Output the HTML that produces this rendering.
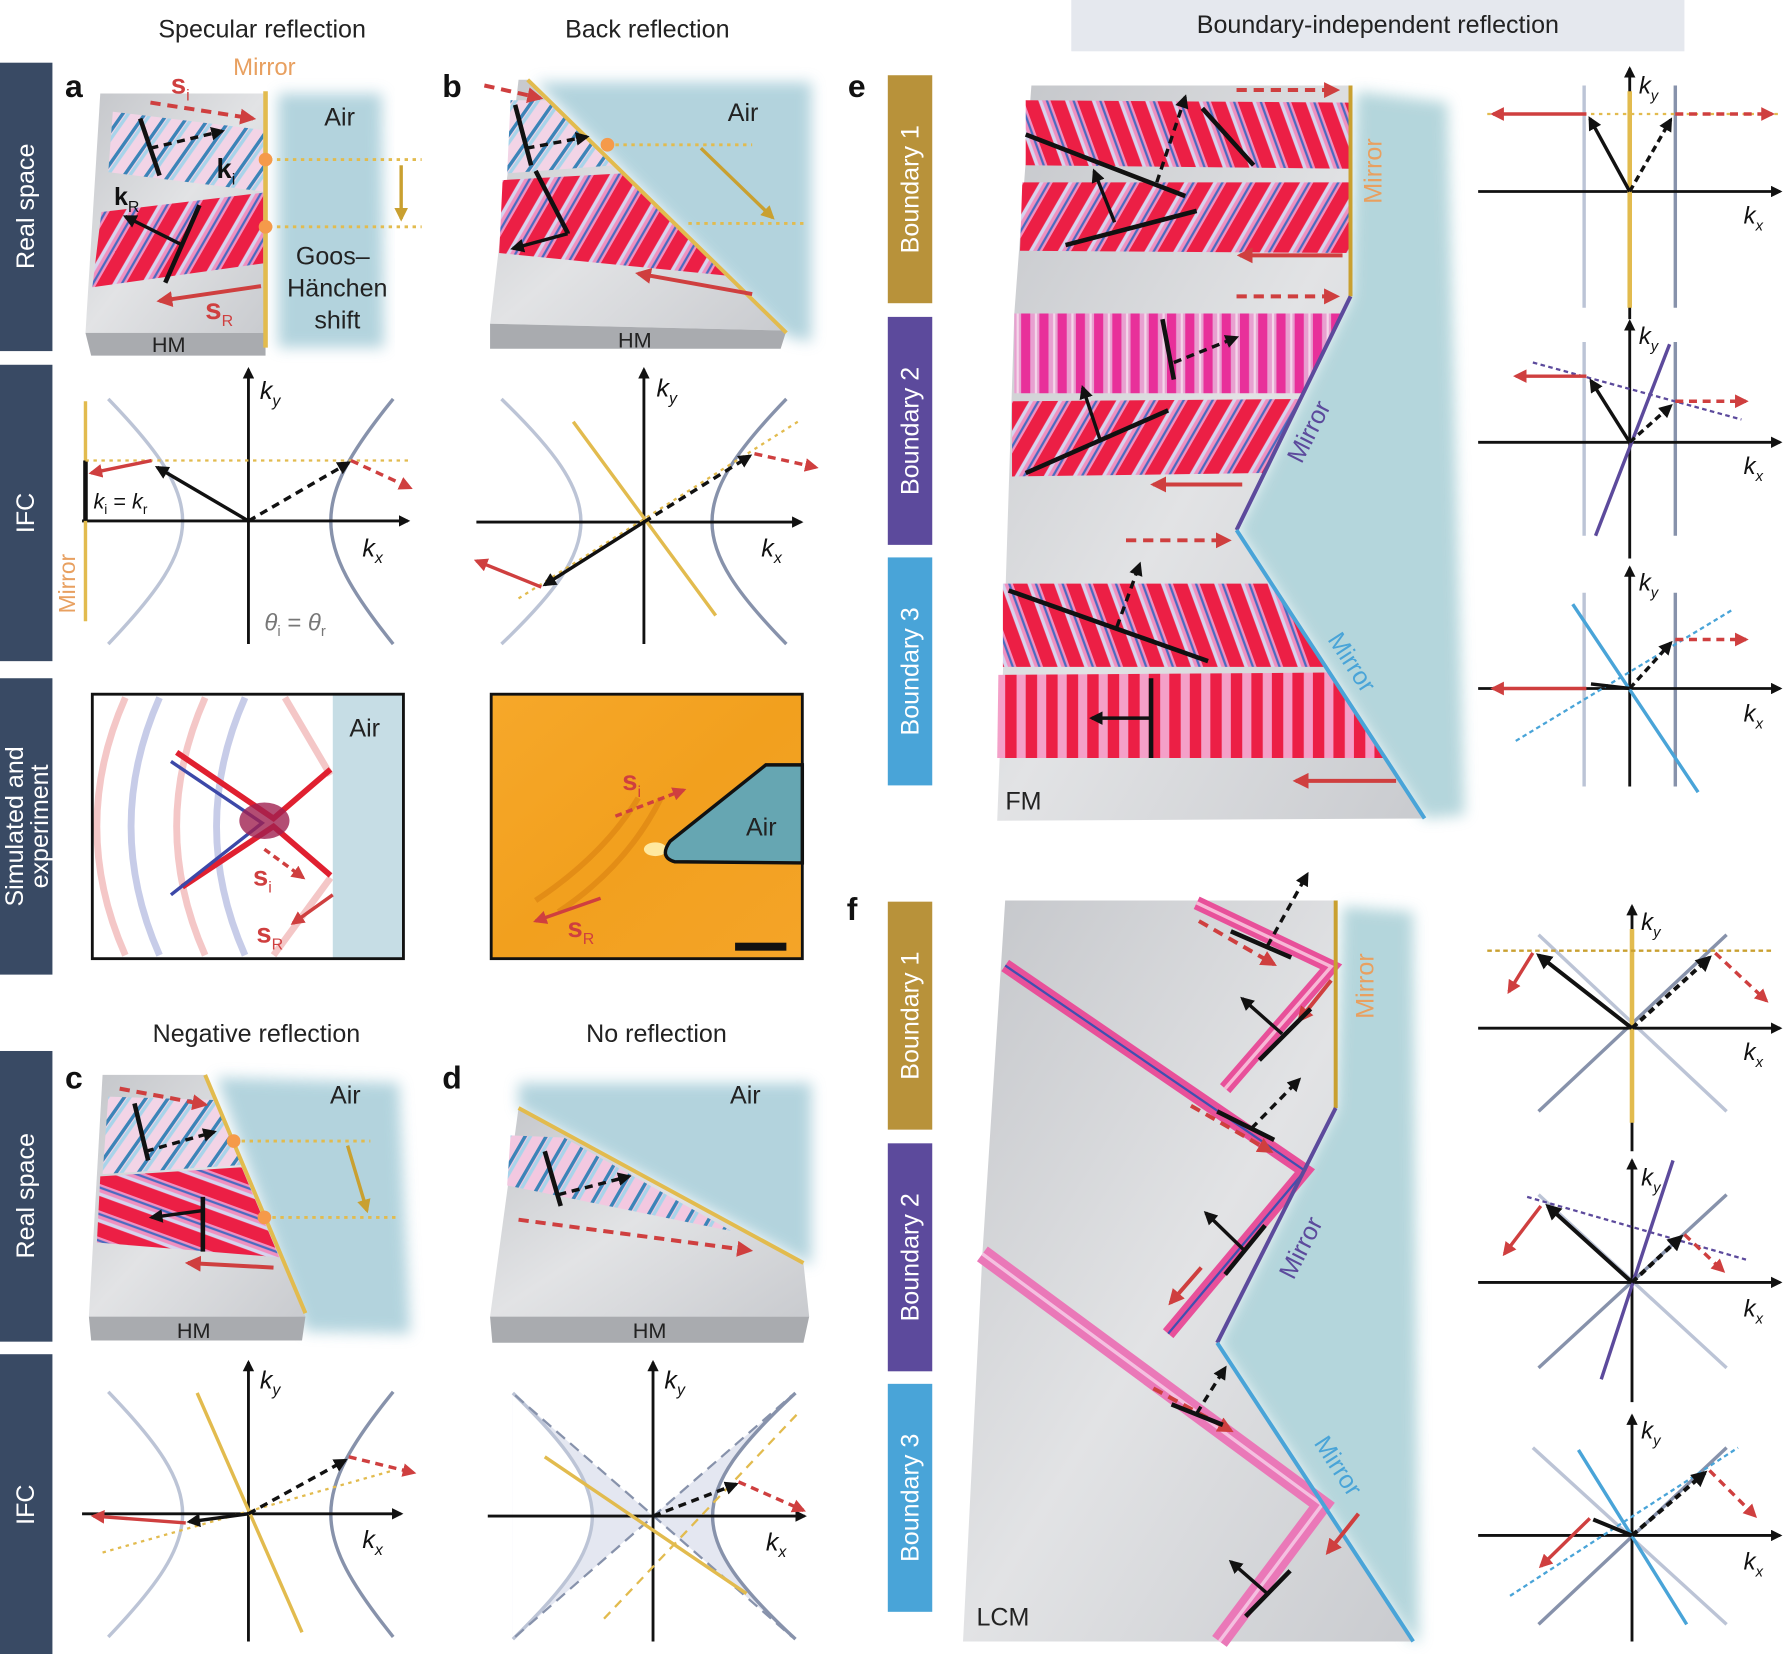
<!DOCTYPE html>
<html><head><meta charset="utf-8"><style>
html,body{margin:0;padding:0;background:#fff}
svg{display:block}
text{font-family:"Liberation Sans",sans-serif}
</style></head><body>
<svg width="1787" height="1654" viewBox="0 0 1568 1451" preserveAspectRatio="none" xmlns="http://www.w3.org/2000/svg">
<defs>
<marker id="ab" viewBox="0 0 10 10" refX="8" refY="5" markerWidth="4" markerHeight="4" orient="auto"><path d="M0,0L10,5L0,10z" fill="#111"/></marker>
<marker id="ar" viewBox="0 0 10 10" refX="8" refY="5" markerWidth="4" markerHeight="4" orient="auto"><path d="M0,0L10,5L0,10z" fill="#cf3f3f"/></marker>
<marker id="ag" viewBox="0 0 10 10" refX="8" refY="5" markerWidth="4" markerHeight="4" orient="auto"><path d="M0,0L10,5L0,10z" fill="#c9a030"/></marker>
<pattern id="pr" width="22" height="22" patternUnits="userSpaceOnUse" patternTransform="rotate(30)"><rect width="22" height="22" fill="#f090c0"/><rect width="12" height="22" fill="#ec1f45"/><rect x="12" width="3" height="22" fill="#d7d3ee"/><rect x="18" width="2" height="22" fill="#4a6bc0"/></pattern>
<pattern id="pr2" width="22" height="22" patternUnits="userSpaceOnUse" patternTransform="rotate(-20)"><rect width="22" height="22" fill="#f090c0"/><rect width="12" height="22" fill="#ec1f45"/><rect x="12" width="3" height="22" fill="#d7d3ee"/><rect x="18" width="2" height="22" fill="#4a6bc0"/></pattern>
<pattern id="pr3" width="22" height="22" patternUnits="userSpaceOnUse" patternTransform="rotate(-70)"><rect width="22" height="22" fill="#f090c0"/><rect width="12" height="22" fill="#ec1f45"/><rect x="12" width="3" height="22" fill="#d7d3ee"/><rect x="18" width="2" height="22" fill="#4a6bc0"/></pattern>
<pattern id="pv" width="16" height="16" patternUnits="userSpaceOnUse"><rect width="16" height="16" fill="#e8a0d0"/><rect width="8" height="16" fill="#e8309a"/><rect x="12" width="2" height="16" fill="#f4d6ea"/></pattern>
<pattern id="pvr" width="18" height="18" patternUnits="userSpaceOnUse"><rect width="18" height="18" fill="#f4a0c8"/><rect width="10" height="18" fill="#ec1f45"/></pattern>
<pattern id="pp" width="16" height="16" patternUnits="userSpaceOnUse" patternTransform="rotate(35)"><rect width="16" height="16" fill="#f2d4e6"/><rect width="3" height="16" fill="#3b84b8"/><rect x="4" width="3" height="16" fill="#a8d4ea"/></pattern>
<pattern id="pp2" width="16" height="16" patternUnits="userSpaceOnUse" patternTransform="rotate(30)"><rect width="16" height="16" fill="#f2c8e0"/><rect width="3" height="16" fill="#3b84b8"/><rect x="4" width="3" height="16" fill="#a8d4ea"/></pattern>
<linearGradient id="gray" x1="0" y1="0" x2="1" y2="1"><stop offset="0" stop-color="#c4c6ca"/><stop offset="0.5" stop-color="#e2e3e5"/><stop offset="1" stop-color="#c9cbcf"/></linearGradient>
<linearGradient id="orng" x1="0" y1="0" x2="1" y2="1"><stop offset="0" stop-color="#f6a82a"/><stop offset="0.5" stop-color="#f2a01e"/><stop offset="1" stop-color="#f4a428"/></linearGradient>
<filter id="bl"><feGaussianBlur stdDeviation="6"/></filter>
</defs>

<!-- side bars -->
<g fill="#394a64">
<rect x="0" y="55" width="46" height="253"/><rect x="0" y="320" width="46" height="260"/>
<rect x="0" y="595" width="46" height="260"/><rect x="0" y="922" width="46" height="255"/>
<rect x="0" y="1188" width="46" height="263"/>
</g>
<g fill="#fff" font-size="22" text-anchor="middle">
<text transform="translate(30,181) rotate(-90)">Real space</text>
<text transform="translate(30,450) rotate(-90)">IFC</text>
<text transform="translate(20,725) rotate(-90)">Simulated and</text>
<text transform="translate(42,725) rotate(-90)">experiment</text>
<text transform="translate(30,1049) rotate(-90)">Real space</text>
<text transform="translate(30,1320) rotate(-90)">IFC</text>
</g>

<!-- titles -->
<g font-size="22" fill="#222" text-anchor="middle">
<text x="230" y="33">Specular reflection</text>
<text x="568" y="33">Back reflection</text>
<text x="225" y="914">Negative reflection</text>
<text x="576" y="914">No reflection</text>
</g>
<rect x="940" y="0" width="538" height="45" fill="#e5e8ee"/>
<text x="1209" y="29" font-size="22" fill="#222" text-anchor="middle">Boundary-independent reflection</text>
<g font-size="28" font-weight="bold" fill="#111">
<text x="57" y="85">a</text><text x="388" y="85">b</text><text x="57" y="955">c</text><text x="388" y="955">d</text>
<text x="744" y="85">e</text><text x="743" y="807">f</text>
</g>

<!-- ===== Panel a real space ===== -->
<path d="M244,82 L335,82 L337,305 L244,305Z" fill="#a6ccd8" opacity="0.85" filter="url(#bl)"/>
<path d="M88,82 L233,82 L233,292 L75,292Z" fill="url(#gray)"/>
<path d="M75,292 L233,292 L233,312 L80,312Z" fill="#a9abaf"/>
<path d="M99,98 L231,114 L231,168 L95,151Z" fill="url(#pp)"/>
<path d="M89,186 L231,169 L231,231 L81,252Z" fill="url(#pr)"/>
<line x1="233" y1="80" x2="233" y2="305" stroke="#e2bb4e" stroke-width="4"/>
<text x="232" y="66" font-size="21" fill="#e8a060" text-anchor="middle">Mirror</text>
<g stroke="#e2bb4e" stroke-width="2.5" stroke-dasharray="3,4"><line x1="236" y1="140" x2="370" y2="140"/><line x1="236" y1="199" x2="370" y2="199"/></g>
<circle cx="233" cy="140" r="6" fill="#f59a4a"/><circle cx="233" cy="199" r="6" fill="#f59a4a"/>
<line x1="352" y1="145" x2="352" y2="192" stroke="#c9a030" stroke-width="3" marker-end="url(#ag)"/>
<line x1="132" y1="90" x2="222" y2="104" stroke="#cf3f3f" stroke-width="3.5" stroke-dasharray="9,6" marker-end="url(#ar)"/>
<line x1="229" y1="251" x2="140" y2="264" stroke="#cf3f3f" stroke-width="3.5" marker-end="url(#ar)"/>
<line x1="123" y1="104" x2="140" y2="154" stroke="#111" stroke-width="4"/>
<line x1="132" y1="130" x2="195" y2="115" stroke="#111" stroke-width="3" stroke-dasharray="7,5" marker-end="url(#ab)"/>
<line x1="175" y1="180" x2="145" y2="248" stroke="#111" stroke-width="4"/>
<line x1="160" y1="215" x2="110" y2="190" stroke="#111" stroke-width="3" marker-end="url(#ab)"/>
<text x="150" y="82" font-size="24" font-weight="bold" fill="#cf3f3f">s<tspan font-size="14" font-weight="normal" dy="6">i</tspan></text>
<text x="190" y="156" font-size="24" font-weight="bold" fill="#111">k<tspan font-size="14" font-weight="normal" dy="6">i</tspan></text>
<text x="100" y="180" font-size="22" font-weight="bold" fill="#111">k<tspan font-size="14" font-weight="normal" dy="6">R</tspan></text>
<text x="180" y="280" font-size="26" font-weight="bold" fill="#cf3f3f">s<tspan font-size="14" font-weight="normal" dy="6">R</tspan></text>
<g font-size="22" fill="#222" text-anchor="middle"><text x="298" y="110">Air</text><text x="292" y="232">Goos–</text><text x="296" y="260">Hänchen</text><text x="296" y="288">shift</text><text x="148" y="309" font-size="19">HM</text></g>

<!-- ===== Panel b real space ===== -->
<path d="M470,72 L712,72 L712,300 L690,295Z" fill="#a6ccd8" opacity="0.85" filter="url(#bl)"/>
<path d="M455,70 L465,70 L690,290 L430,284Z" fill="url(#gray)"/>
<path d="M430,284 L690,290 L685,306 L430,306Z" fill="#a9abaf"/>
<path d="M448,88 L481,88 L540,145 L445,152Z" fill="url(#pp)"/>
<path d="M441,158 L548,152 L640,242 L438,222Z" fill="url(#pr)"/>
<line x1="463" y1="70" x2="690" y2="292" stroke="#e2bb4e" stroke-width="3.5"/>
<g stroke="#e2bb4e" stroke-width="2.5" stroke-dasharray="3,4"><line x1="533" y1="127" x2="660" y2="127"/><line x1="604" y1="196" x2="705" y2="196"/></g>
<circle cx="533" cy="127" r="6" fill="#f59a4a"/>
<line x1="615" y1="130" x2="678" y2="191" stroke="#c9a030" stroke-width="3" marker-end="url(#ag)"/>
<line x1="425" y1="75" x2="474" y2="86" stroke="#cf3f3f" stroke-width="3.5" stroke-dasharray="9,6" marker-end="url(#ar)"/>
<line x1="660" y1="258" x2="560" y2="240" stroke="#cf3f3f" stroke-width="3.5" marker-end="url(#ar)"/>
<line x1="452" y1="92" x2="466" y2="145" stroke="#111" stroke-width="4"/>
<line x1="462" y1="130" x2="515" y2="120" stroke="#111" stroke-width="3" stroke-dasharray="7,5" marker-end="url(#ab)"/>
<polyline points="470,150 498,204 498,205" fill="none" stroke="#111" stroke-width="4"/>
<line x1="498" y1="205" x2="450" y2="218" stroke="#111" stroke-width="3" marker-end="url(#ab)"/>
<text x="652" y="106" font-size="22" fill="#222" text-anchor="middle">Air</text>
<text x="557" y="305" font-size="19" fill="#222" text-anchor="middle">HM</text>

<!-- ===== IFC a ===== -->
<g fill="none" stroke-width="3">
<path d="M95,350 C182,440 182,474 95,565" stroke="#bcc4d6"/><path d="M345,350 C272,440 272,474 345,565" stroke="#8792ab"/>
</g>
<line x1="72" y1="457" x2="358" y2="457" stroke="#111" stroke-width="2.5" marker-end="url(#ab)"/>
<line x1="218" y1="565" x2="218" y2="324" stroke="#111" stroke-width="2.5" marker-end="url(#ab)"/>
<line x1="75" y1="352" x2="75" y2="545" stroke="#e2bb4e" stroke-width="3"/>
<line x1="75" y1="404" x2="75" y2="457" stroke="#111" stroke-width="4"/>
<line x1="75" y1="404" x2="360" y2="404" stroke="#e2bb4e" stroke-width="2" stroke-dasharray="3,4"/>
<line x1="218" y1="457" x2="138" y2="410" stroke="#111" stroke-width="3" marker-end="url(#ab)"/>
<line x1="133" y1="404" x2="80" y2="415" stroke="#cf3f3f" stroke-width="3" marker-end="url(#ar)"/>
<line x1="218" y1="457" x2="306" y2="406" stroke="#111" stroke-width="3" stroke-dasharray="7,5" marker-end="url(#ab)"/>
<line x1="308" y1="404" x2="360" y2="428" stroke="#cf3f3f" stroke-width="3" stroke-dasharray="7,5" marker-end="url(#ar)"/>
<text transform="translate(66,512) rotate(-90)" font-size="20" fill="#e8a060" text-anchor="middle">Mirror</text>
<text x="82" y="446" font-size="19" fill="#111"><tspan font-style="italic">k</tspan><tspan font-size="12" dy="5">i</tspan><tspan dy="-5"> = </tspan><tspan font-style="italic">k</tspan><tspan font-size="12" dy="5">r</tspan></text>
<text x="232" y="553" font-size="21" fill="#777" font-style="italic">θ<tspan font-size="13" dy="5" font-style="normal">i</tspan><tspan dy="-5" font-style="normal"> = </tspan>θ<tspan font-size="13" dy="5" font-style="normal">r</tspan></text>
<text x="228" y="350" font-size="22" font-style="italic" fill="#111">k<tspan font-size="14" dy="6">y</tspan></text>
<text x="318" y="488" font-size="22" font-style="italic" fill="#111">k<tspan font-size="14" dy="6">x</tspan></text>

<!-- ===== IFC b ===== -->
<g fill="none" stroke-width="3">
<path d="M440,350 C533,440 533,476 440,565" stroke="#bcc4d6"/><path d="M690,350 C603,440 603,476 690,565" stroke="#8792ab"/>
</g>
<line x1="418" y1="458" x2="703" y2="458" stroke="#111" stroke-width="2.5" marker-end="url(#ab)"/>
<line x1="565" y1="565" x2="565" y2="324" stroke="#111" stroke-width="2.5" marker-end="url(#ab)"/>
<line x1="503" y1="370" x2="628" y2="540" stroke="#e2bb4e" stroke-width="3"/>
<line x1="455" y1="525" x2="700" y2="370" stroke="#e2bb4e" stroke-width="2" stroke-dasharray="3,4"/>
<line x1="565" y1="458" x2="478" y2="513" stroke="#111" stroke-width="3" marker-end="url(#ab)"/>
<line x1="475" y1="515" x2="418" y2="492" stroke="#cf3f3f" stroke-width="3" marker-end="url(#ar)"/>
<line x1="565" y1="458" x2="658" y2="400" stroke="#111" stroke-width="3" stroke-dasharray="7,5" marker-end="url(#ab)"/>
<line x1="662" y1="398" x2="716" y2="410" stroke="#cf3f3f" stroke-width="3" stroke-dasharray="7,5" marker-end="url(#ar)"/>
<text x="576" y="348" font-size="22" font-style="italic" fill="#111">k<tspan font-size="14" dy="6">y</tspan></text>
<text x="668" y="488" font-size="22" font-style="italic" fill="#111">k<tspan font-size="14" dy="6">x</tspan></text>

<!-- ===== simulated ===== -->
<rect x="81" y="609" width="273" height="232" fill="#fff"/>
<g fill="none" stroke-width="6" opacity="0.35">
<path d="M110,612 Q60,725 110,838" stroke="#e06060"/><path d="M140,612 Q90,725 140,838" stroke="#6070c0"/>
<path d="M180,612 Q130,725 180,838" stroke="#e06060"/><path d="M215,612 Q165,725 215,838" stroke="#6070c0"/>
<path d="M250,612 L290,680" stroke="#e06060"/><path d="M240,838 L290,770" stroke="#e06060"/>
</g>
<g stroke-width="5" fill="none">
<path d="M155,660 L240,718 L290,675" stroke="#e02030"/>
<path d="M160,778 L240,725 L290,768" stroke="#e02030"/>
<path d="M150,668 L230,722 L150,785" stroke="#3c48a8" stroke-width="3"/>
</g>
<ellipse cx="232" cy="720" rx="22" ry="16" fill="#a02050" opacity="0.8"/>
<rect x="292" y="609" width="62" height="232" fill="#c6dde5"/>
<rect x="81" y="609" width="273" height="232" fill="none" stroke="#111" stroke-width="2.5"/>
<text x="320" y="646" font-size="22" fill="#222" text-anchor="middle">Air</text>
<line x1="232" y1="745" x2="266" y2="770" stroke="#cf3f3f" stroke-width="3" stroke-dasharray="6,4" marker-end="url(#ar)"/>
<line x1="292" y1="785" x2="257" y2="810" stroke="#cf3f3f" stroke-width="3" marker-end="url(#ar)"/>
<text x="222" y="777" font-size="24" font-weight="bold" fill="#cf3f3f">s<tspan font-size="14" font-weight="normal" dy="6">i</tspan></text>
<text x="225" y="827" font-size="24" font-weight="bold" fill="#cf3f3f">s<tspan font-size="14" font-weight="normal" dy="6">R</tspan></text>

<!-- ===== experiment ===== -->
<rect x="431" y="609" width="273" height="232" fill="url(#orng)"/>
<path d="M490,800 Q550,760 580,700 M470,790 Q530,750 560,700" stroke="#d98010" stroke-width="5" fill="none" opacity="0.6"/>
<ellipse cx="575" cy="745" rx="10" ry="6" fill="#ffe9a0"/>
<path d="M704,671 L672,671 L588,738 Q578,752 592,756 L704,757Z" fill="#66a6b2" stroke="#111" stroke-width="3"/>
<rect x="431" y="609" width="273" height="232" fill="none" stroke="#111" stroke-width="2.5"/>
<text x="668" y="733" font-size="22" fill="#222" text-anchor="middle">Air</text>
<line x1="540" y1="716" x2="600" y2="693" stroke="#cf3f3f" stroke-width="3" stroke-dasharray="6,4" marker-end="url(#ar)"/>
<line x1="527" y1="788" x2="470" y2="808" stroke="#cf3f3f" stroke-width="3" marker-end="url(#ar)"/>
<text x="546" y="693" font-size="24" font-weight="bold" fill="#cf3f3f">s<tspan font-size="14" font-weight="normal" dy="6">i</tspan></text>
<text x="498" y="822" font-size="24" font-weight="bold" fill="#cf3f3f">s<tspan font-size="14" font-weight="normal" dy="6">R</tspan></text>
<rect x="645" y="827" width="45" height="7" fill="#111"/>

<!-- ===== Panel c ===== -->
<path d="M190,945 L350,950 L360,1170 L268,1168Z" fill="#a6ccd8" opacity="0.85" filter="url(#bl)"/>
<path d="M90,943 L180,943 L268,1155 L78,1155Z" fill="url(#gray)"/>
<path d="M78,1155 L268,1155 L265,1176 L80,1176Z" fill="#a9abaf"/>
<path d="M95,962 L188,965 L212,1022 L90,1030Z" fill="url(#pp)"/>
<path d="M88,1032 L212,1024 L245,1103 L85,1090Z" fill="url(#pr3)"/>
<line x1="180" y1="943" x2="268" y2="1152" stroke="#e2bb4e" stroke-width="3.5"/>
<g stroke="#e2bb4e" stroke-width="2.5" stroke-dasharray="3,4"><line x1="205" y1="1001" x2="325" y2="1001"/><line x1="232" y1="1068" x2="350" y2="1068"/></g>
<circle cx="205" cy="1001" r="6" fill="#f59a4a"/><circle cx="232" cy="1068" r="6" fill="#f59a4a"/>
<line x1="305" y1="1005" x2="322" y2="1062" stroke="#c9a030" stroke-width="3" marker-end="url(#ag)"/>
<line x1="105" y1="955" x2="180" y2="969" stroke="#cf3f3f" stroke-width="3.5" stroke-dasharray="9,6" marker-end="url(#ar)"/>
<line x1="240" y1="1112" x2="165" y2="1108" stroke="#cf3f3f" stroke-width="3.5" marker-end="url(#ar)"/>
<line x1="118" y1="968" x2="130" y2="1018" stroke="#111" stroke-width="4"/>
<line x1="128" y1="1010" x2="188" y2="993" stroke="#111" stroke-width="3" stroke-dasharray="7,5" marker-end="url(#ab)"/>
<line x1="178" y1="1050" x2="178" y2="1098" stroke="#111" stroke-width="4"/>
<line x1="178" y1="1062" x2="133" y2="1068" stroke="#111" stroke-width="3" marker-end="url(#ab)"/>
<text x="303" y="968" font-size="22" fill="#222" text-anchor="middle">Air</text>
<text x="170" y="1174" font-size="19" fill="#222" text-anchor="middle">HM</text>

<!-- ===== IFC c ===== -->
<g fill="none" stroke-width="3">
<path d="M95,1221 C182,1311 182,1345 95,1436" stroke="#bcc4d6"/><path d="M345,1221 C272,1311 272,1345 345,1436" stroke="#8792ab"/>
</g>
<line x1="72" y1="1328" x2="352" y2="1328" stroke="#111" stroke-width="2.5" marker-end="url(#ab)"/>
<line x1="218" y1="1440" x2="218" y2="1195" stroke="#111" stroke-width="2.5" marker-end="url(#ab)"/>
<line x1="173" y1="1222" x2="265" y2="1432" stroke="#e2bb4e" stroke-width="3"/>
<line x1="90" y1="1362" x2="345" y2="1290" stroke="#e2bb4e" stroke-width="2" stroke-dasharray="3,4"/>
<line x1="218" y1="1328" x2="166" y2="1335" stroke="#111" stroke-width="3" marker-end="url(#ab)"/>
<line x1="163" y1="1336" x2="82" y2="1330" stroke="#cf3f3f" stroke-width="3" marker-end="url(#ar)"/>
<line x1="218" y1="1328" x2="303" y2="1281" stroke="#111" stroke-width="3" stroke-dasharray="7,5" marker-end="url(#ab)"/>
<line x1="306" y1="1278" x2="363" y2="1292" stroke="#cf3f3f" stroke-width="3" stroke-dasharray="7,5" marker-end="url(#ar)"/>
<text x="228" y="1218" font-size="22" font-style="italic" fill="#111">k<tspan font-size="14" dy="6">y</tspan></text>
<text x="318" y="1358" font-size="22" font-style="italic" fill="#111">k<tspan font-size="14" dy="6">x</tspan></text>

<!-- ===== Panel d ===== -->
<path d="M455,950 L712,950 L712,1110 L455,972Z" fill="#a6ccd8" opacity="0.85" filter="url(#bl)"/>
<path d="M455,972 L705,1108 L710,1155 L430,1155Z" fill="url(#gray)"/>
<path d="M430,1155 L710,1155 L705,1178 L432,1178Z" fill="#a9abaf"/>
<path d="M448,996 L495,998 L642,1080 L445,1040Z" fill="url(#pp2)"/>
<line x1="455" y1="972" x2="705" y2="1108" stroke="#e2bb4e" stroke-width="3.5"/>
<line x1="478" y1="1010" x2="492" y2="1058" stroke="#111" stroke-width="4"/>
<line x1="490" y1="1048" x2="552" y2="1032" stroke="#111" stroke-width="3" stroke-dasharray="7,5" marker-end="url(#ab)"/>
<line x1="455" y1="1070" x2="658" y2="1097" stroke="#cf3f3f" stroke-width="3.5" stroke-dasharray="9,6" marker-end="url(#ar)"/>
<text x="654" y="968" font-size="22" fill="#222" text-anchor="middle">Air</text>
<text x="570" y="1174" font-size="19" fill="#222" text-anchor="middle">HM</text>

<!-- ===== IFC d ===== -->
<path d="M450,1222 L573,1330 L450,1438Z" fill="#e4e7f1"/>
<path d="M450,1222 C543,1312 543,1348 450,1438Z" fill="#fff"/>
<path d="M698,1222 L573,1330 L698,1438Z" fill="#e4e7f1"/>
<path d="M698,1222 C601,1312 601,1348 698,1438Z" fill="#fff"/>
<g fill="none" stroke-width="3">
<path d="M450,1222 C543,1312 543,1348 450,1438" stroke="#bcc4d6"/><path d="M698,1222 C601,1312 601,1348 698,1438" stroke="#8792ab"/>
</g>
<g stroke="#8792ab" stroke-width="2" stroke-dasharray="10,6"><line x1="452" y1="1224" x2="695" y2="1436"/><line x1="452" y1="1436" x2="695" y2="1224"/></g>
<line x1="428" y1="1330" x2="706" y2="1330" stroke="#111" stroke-width="2.5" marker-end="url(#ab)"/>
<line x1="573" y1="1440" x2="573" y2="1195" stroke="#111" stroke-width="2.5" marker-end="url(#ab)"/>
<line x1="478" y1="1278" x2="655" y2="1398" stroke="#e2bb4e" stroke-width="3"/>
<line x1="530" y1="1420" x2="700" y2="1240" stroke="#e2bb4e" stroke-width="2" stroke-dasharray="8,6"/>
<line x1="573" y1="1330" x2="646" y2="1302" stroke="#111" stroke-width="3" stroke-dasharray="7,5" marker-end="url(#ab)"/>
<line x1="648" y1="1300" x2="705" y2="1325" stroke="#cf3f3f" stroke-width="3" stroke-dasharray="7,5" marker-end="url(#ar)"/>
<text x="583" y="1218" font-size="22" font-style="italic" fill="#111">k<tspan font-size="14" dy="6">y</tspan></text>
<text x="672" y="1360" font-size="22" font-style="italic" fill="#111">k<tspan font-size="14" dy="6">x</tspan></text>

<!-- ===== boundary bars ===== -->
<rect x="779" y="66" width="39" height="200" fill="#b8923a"/>
<rect x="779" y="278" width="39" height="200" fill="#5c4a9c"/>
<rect x="779" y="489" width="39" height="200" fill="#49a4d8"/>
<rect x="779" y="791" width="39" height="200" fill="#b8923a"/>
<rect x="779" y="1003" width="39" height="200" fill="#5c4a9c"/>
<rect x="779" y="1214" width="39" height="200" fill="#49a4d8"/>
<g fill="#fff" font-size="22" text-anchor="middle">
<text transform="translate(806,166) rotate(-90)">Boundary 1</text>
<text transform="translate(806,378) rotate(-90)">Boundary 2</text>
<text transform="translate(806,589) rotate(-90)">Boundary 3</text>
<text transform="translate(806,891) rotate(-90)">Boundary 1</text>
<text transform="translate(806,1103) rotate(-90)">Boundary 2</text>
<text transform="translate(806,1314) rotate(-90)">Boundary 3</text>
</g>

<!-- ===== Panel e main ===== -->
<path d="M1190,80 L1270,90 L1285,715 L1250,718 L1085,465 L1185,260Z" fill="#a8cfd6" opacity="0.85" filter="url(#bl)"/>
<path d="M905,75 L1185,75 L1185,260 L1085,465 L1250,718 L875,720 L880,590 L890,275Z" fill="url(#gray)"/>
<path d="M900,88 L1185,90 L1185,148 L900,145Z" fill="url(#pr2)"/>
<path d="M897,160 L1185,160 L1185,222 L895,220Z" fill="url(#pr)"/>
<path d="M890,275 L1178,275 L1144,345 L890,345Z" fill="url(#pv)"/>
<path d="M888,352 L1141,350 L1109,415 L888,418Z" fill="url(#pr)"/>
<path d="M880,512 L1116,512 L1163,585 L880,585Z" fill="url(#pr2)"/>
<path d="M876,592 L1166,590 L1215,665 L875,665Z" fill="url(#pvr)"/>
<polyline points="1185,75 1185,260" stroke="#c9a030" stroke-width="3.5" fill="none"/>
<line x1="1185" y1="260" x2="1085" y2="465" stroke="#5c4a9c" stroke-width="3.5"/>
<line x1="1085" y1="465" x2="1250" y2="718" stroke="#49a4d8" stroke-width="3.5"/>
<g stroke="#cf3f3f" stroke-width="3.5">
<line x1="1085" y1="79" x2="1173" y2="79" stroke-dasharray="9,6" marker-end="url(#ar)"/>
<line x1="1085" y1="260" x2="1173" y2="260" stroke-dasharray="9,6" marker-end="url(#ar)"/>
<line x1="988" y1="474" x2="1078" y2="474" stroke-dasharray="9,6" marker-end="url(#ar)"/>
<line x1="1178" y1="224" x2="1088" y2="224" marker-end="url(#ar)"/>
<line x1="1090" y1="425" x2="1012" y2="425" marker-end="url(#ar)"/>
<line x1="1225" y1="685" x2="1137" y2="685" marker-end="url(#ar)"/>
</g>
<g stroke="#111" stroke-width="4">
<line x1="1055" y1="95" x2="1100" y2="145"/><line x1="1040" y1="172" x2="900" y2="118"/>
<line x1="1015" y1="160" x2="1040" y2="85" stroke-dasharray="7,5" stroke-width="3" marker-end="url(#ab)"/>
<line x1="1050" y1="185" x2="935" y2="215"/><line x1="978" y1="195" x2="960" y2="150" stroke-width="3" marker-end="url(#ab)"/>
<line x1="1020" y1="280" x2="1030" y2="333"/><line x1="1030" y1="318" x2="1085" y2="296" stroke-dasharray="7,5" stroke-width="3" marker-end="url(#ab)"/>
<line x1="1025" y1="360" x2="900" y2="415"/><line x1="965" y1="385" x2="950" y2="340" stroke-width="3" marker-end="url(#ab)"/>
<line x1="885" y1="518" x2="1060" y2="580"/><line x1="980" y1="550" x2="1000" y2="495" stroke-dasharray="7,5" stroke-width="3" marker-end="url(#ab)"/>
<line x1="1010" y1="595" x2="1010" y2="665"/><line x1="1010" y1="630" x2="958" y2="630" stroke-width="3" marker-end="url(#ab)"/>
</g>
<text x="898" y="710" font-size="22" fill="#222" text-anchor="middle">FM</text>
<text transform="translate(1212,150) rotate(-90)" font-size="22" fill="#e8a060" text-anchor="middle">Mirror</text>
<text transform="translate(1155,382) rotate(-63)" font-size="22" fill="#5c4a9c" text-anchor="middle">Mirror</text>
<text transform="translate(1180,585) rotate(57)" font-size="22" fill="#49a4d8" text-anchor="middle">Mirror</text>

<!-- ===== Panel f main ===== -->
<path d="M1178,795 L1240,800 L1245,1440 L1240,1440 L1068,1178 L1172,972Z" fill="#a8cfd6" opacity="0.85" filter="url(#bl)"/>
<path d="M882,790 L1172,790 L1172,972 L1068,1178 L1240,1440 L845,1440 L862,1100Z" fill="url(#gray)"/>
<g stroke-linecap="butt" fill="none">
<polyline points="1050,792 1168,848 1075,955" stroke="#e8509a" stroke-width="12"/>
<polyline points="882,847 1145,1027 1025,1170" stroke="#e8509a" stroke-width="12"/>
<polyline points="862,1100 1160,1320 1070,1440" stroke="#ea78b8" stroke-width="16"/>
<polyline points="1050,792 1168,848 1075,955" stroke="#f7b8d6" stroke-width="3"/>
<polyline points="882,847 1145,1027 1025,1170" stroke="#4050b0" stroke-width="2"/>
<polyline points="862,1100 1160,1320 1070,1440" stroke="#f4c0e0" stroke-width="3"/>
</g>
<line x1="1172" y1="790" x2="1172" y2="972" stroke="#c9a030" stroke-width="3.5"/>
<line x1="1172" y1="972" x2="1068" y2="1178" stroke="#5c4a9c" stroke-width="3.5"/>
<line x1="1068" y1="1178" x2="1240" y2="1440" stroke="#49a4d8" stroke-width="3.5"/>
<g stroke="#cf3f3f" stroke-width="3.5">
<line x1="1052" y1="808" x2="1118" y2="846" stroke-dasharray="9,6" marker-end="url(#ar)"/>
<line x1="1045" y1="970" x2="1115" y2="1010" stroke-dasharray="9,6" marker-end="url(#ar)"/>
<line x1="1012" y1="1218" x2="1080" y2="1255" stroke-dasharray="9,6" marker-end="url(#ar)"/>
<line x1="1168" y1="860" x2="1140" y2="895" marker-end="url(#ar)"/>
<line x1="1054" y1="1112" x2="1027" y2="1143" marker-end="url(#ar)"/>
<line x1="1192" y1="1328" x2="1165" y2="1362" marker-end="url(#ar)"/>
</g>
<g stroke="#111" stroke-width="4">
<line x1="1080" y1="817" x2="1133" y2="840"/><line x1="1112" y1="830" x2="1147" y2="767" stroke-dasharray="7,5" stroke-width="3" marker-end="url(#ab)"/>
<line x1="1105" y1="930" x2="1150" y2="885"/><line x1="1125" y1="907" x2="1090" y2="876" stroke-width="3" marker-end="url(#ab)"/>
<line x1="1068" y1="975" x2="1118" y2="1000"/><line x1="1098" y1="990" x2="1140" y2="947" stroke-dasharray="7,5" stroke-width="3" marker-end="url(#ab)"/>
<line x1="1075" y1="1118" x2="1110" y2="1075"/><line x1="1092" y1="1097" x2="1058" y2="1064" stroke-width="3" marker-end="url(#ab)"/>
<line x1="1028" y1="1232" x2="1073" y2="1250"/><line x1="1050" y1="1240" x2="1075" y2="1200" stroke-dasharray="7,5" stroke-width="3" marker-end="url(#ab)"/>
<line x1="1093" y1="1418" x2="1132" y2="1378"/><line x1="1112" y1="1398" x2="1080" y2="1370" stroke-width="3" marker-end="url(#ab)"/>
</g>
<text x="880" y="1426" font-size="22" fill="#222" text-anchor="middle">LCM</text>
<text transform="translate(1205,865) rotate(-90)" font-size="22" fill="#e8a060" text-anchor="middle">Mirror</text>
<text transform="translate(1148,1098) rotate(-63)" font-size="22" fill="#5c4a9c" text-anchor="middle">Mirror</text>
<text transform="translate(1168,1290) rotate(57)" font-size="22" fill="#49a4d8" text-anchor="middle">Mirror</text>

<!-- ===== small IFC e ===== -->
<g>
<line x1="1390" y1="75" x2="1390" y2="270" stroke="#bcc4d6" stroke-width="3"/>
<line x1="1470" y1="75" x2="1470" y2="270" stroke="#8792ab" stroke-width="3"/>
<line x1="1297" y1="168" x2="1562" y2="168" stroke="#111" stroke-width="2.5" marker-end="url(#ab)"/>
<line x1="1430" y1="280" x2="1430" y2="60" stroke="#111" stroke-width="2.5" marker-end="url(#ab)"/>
<line x1="1430" y1="80" x2="1430" y2="270" stroke="#e2bb4e" stroke-width="4"/>
<line x1="1305" y1="100" x2="1560" y2="100" stroke="#e2bb4e" stroke-width="2" stroke-dasharray="3,4"/>
<line x1="1430" y1="168" x2="1395" y2="104" stroke="#111" stroke-width="3" marker-end="url(#ab)"/>
<line x1="1392" y1="100" x2="1310" y2="100" stroke="#cf3f3f" stroke-width="3" marker-end="url(#ar)"/>
<line x1="1430" y1="168" x2="1466" y2="105" stroke="#111" stroke-width="3" stroke-dasharray="6,4" marker-end="url(#ab)"/>
<line x1="1470" y1="100" x2="1555" y2="100" stroke="#cf3f3f" stroke-width="3" stroke-dasharray="7,5" marker-end="url(#ar)"/>
<text x="1438" y="82" font-size="21" font-style="italic" fill="#111">k<tspan font-size="13" dy="6">y</tspan></text>
<text x="1530" y="196" font-size="21" font-style="italic" fill="#111">k<tspan font-size="13" dy="6">x</tspan></text>
</g>
<g>
<line x1="1390" y1="300" x2="1390" y2="470" stroke="#bcc4d6" stroke-width="3"/>
<line x1="1470" y1="300" x2="1470" y2="470" stroke="#8792ab" stroke-width="3"/>
<line x1="1297" y1="388" x2="1562" y2="388" stroke="#111" stroke-width="2.5" marker-end="url(#ab)"/>
<line x1="1430" y1="490" x2="1430" y2="282" stroke="#111" stroke-width="2.5" marker-end="url(#ab)"/>
<line x1="1400" y1="470" x2="1465" y2="302" stroke="#5c4a9c" stroke-width="3"/>
<line x1="1345" y1="318" x2="1528" y2="368" stroke="#5c4a9c" stroke-width="2" stroke-dasharray="4,3"/>
<line x1="1430" y1="388" x2="1396" y2="334" stroke="#111" stroke-width="3" marker-end="url(#ab)"/>
<line x1="1392" y1="330" x2="1330" y2="330" stroke="#cf3f3f" stroke-width="3" marker-end="url(#ar)"/>
<line x1="1430" y1="388" x2="1466" y2="356" stroke="#111" stroke-width="3" stroke-dasharray="6,4" marker-end="url(#ab)"/>
<line x1="1470" y1="352" x2="1532" y2="352" stroke="#cf3f3f" stroke-width="3" stroke-dasharray="7,5" marker-end="url(#ar)"/>
<text x="1438" y="302" font-size="21" font-style="italic" fill="#111">k<tspan font-size="13" dy="6">y</tspan></text>
<text x="1530" y="416" font-size="21" font-style="italic" fill="#111">k<tspan font-size="13" dy="6">x</tspan></text>
</g>
<g>
<line x1="1390" y1="520" x2="1390" y2="690" stroke="#bcc4d6" stroke-width="3"/>
<line x1="1470" y1="520" x2="1470" y2="690" stroke="#8792ab" stroke-width="3"/>
<line x1="1297" y1="604" x2="1562" y2="604" stroke="#111" stroke-width="2.5" marker-end="url(#ab)"/>
<line x1="1430" y1="690" x2="1430" y2="498" stroke="#111" stroke-width="2.5" marker-end="url(#ab)"/>
<line x1="1380" y1="530" x2="1490" y2="695" stroke="#49a4d8" stroke-width="3"/>
<line x1="1330" y1="650" x2="1520" y2="535" stroke="#49a4d8" stroke-width="2" stroke-dasharray="4,3"/>
<line x1="1430" y1="604" x2="1396" y2="600" stroke="#111" stroke-width="3"/>
<line x1="1392" y1="604" x2="1310" y2="604" stroke="#cf3f3f" stroke-width="3" marker-end="url(#ar)"/>
<line x1="1430" y1="604" x2="1466" y2="564" stroke="#111" stroke-width="3" stroke-dasharray="6,4" marker-end="url(#ab)"/>
<line x1="1470" y1="561" x2="1532" y2="561" stroke="#cf3f3f" stroke-width="3" stroke-dasharray="7,5" marker-end="url(#ar)"/>
<text x="1438" y="518" font-size="21" font-style="italic" fill="#111">k<tspan font-size="13" dy="6">y</tspan></text>
<text x="1530" y="633" font-size="21" font-style="italic" fill="#111">k<tspan font-size="13" dy="6">x</tspan></text>
</g>

<!-- ===== small IFC f ===== -->
<g>
<line x1="1350" y1="820" x2="1515" y2="975" stroke="#bcc4d6" stroke-width="3"/>
<line x1="1515" y1="820" x2="1350" y2="975" stroke="#8792ab" stroke-width="3"/>
<line x1="1297" y1="902" x2="1562" y2="902" stroke="#111" stroke-width="2.5" marker-end="url(#ab)"/>
<line x1="1432" y1="1010" x2="1432" y2="795" stroke="#111" stroke-width="2.5" marker-end="url(#ab)"/>
<line x1="1432" y1="815" x2="1432" y2="985" stroke="#e2bb4e" stroke-width="4"/>
<line x1="1305" y1="834" x2="1555" y2="834" stroke="#c9a030" stroke-width="2" stroke-dasharray="4,3"/>
<line x1="1432" y1="902" x2="1350" y2="838" stroke="#111" stroke-width="3.5" marker-end="url(#ab)"/>
<line x1="1345" y1="836" x2="1324" y2="870" stroke="#cf3f3f" stroke-width="3" marker-end="url(#ar)"/>
<line x1="1432" y1="902" x2="1500" y2="840" stroke="#111" stroke-width="3.5" stroke-dasharray="6,4" marker-end="url(#ab)"/>
<line x1="1505" y1="836" x2="1550" y2="878" stroke="#cf3f3f" stroke-width="3" stroke-dasharray="7,5" marker-end="url(#ar)"/>
<text x="1440" y="816" font-size="21" font-style="italic" fill="#111">k<tspan font-size="13" dy="6">y</tspan></text>
<text x="1530" y="930" font-size="21" font-style="italic" fill="#111">k<tspan font-size="13" dy="6">x</tspan></text>
</g>
<g>
<line x1="1350" y1="1048" x2="1515" y2="1200" stroke="#bcc4d6" stroke-width="3"/>
<line x1="1515" y1="1048" x2="1350" y2="1200" stroke="#8792ab" stroke-width="3"/>
<line x1="1297" y1="1125" x2="1562" y2="1125" stroke="#111" stroke-width="2.5" marker-end="url(#ab)"/>
<line x1="1432" y1="1230" x2="1432" y2="1018" stroke="#111" stroke-width="2.5" marker-end="url(#ab)"/>
<line x1="1405" y1="1210" x2="1468" y2="1018" stroke="#5c4a9c" stroke-width="3"/>
<line x1="1340" y1="1050" x2="1532" y2="1105" stroke="#5c4a9c" stroke-width="2" stroke-dasharray="4,3"/>
<line x1="1432" y1="1125" x2="1358" y2="1058" stroke="#111" stroke-width="3.5" marker-end="url(#ab)"/>
<line x1="1352" y1="1058" x2="1320" y2="1100" stroke="#cf3f3f" stroke-width="3" marker-end="url(#ar)"/>
<line x1="1432" y1="1125" x2="1475" y2="1085" stroke="#111" stroke-width="3.5" stroke-dasharray="6,4" marker-end="url(#ab)"/>
<line x1="1478" y1="1083" x2="1512" y2="1115" stroke="#cf3f3f" stroke-width="3" stroke-dasharray="7,5" marker-end="url(#ar)"/>
<text x="1440" y="1040" font-size="21" font-style="italic" fill="#111">k<tspan font-size="13" dy="6">y</tspan></text>
<text x="1530" y="1155" font-size="21" font-style="italic" fill="#111">k<tspan font-size="13" dy="6">x</tspan></text>
</g>
<g>
<line x1="1345" y1="1270" x2="1515" y2="1425" stroke="#bcc4d6" stroke-width="3"/>
<line x1="1515" y1="1270" x2="1350" y2="1425" stroke="#8792ab" stroke-width="3"/>
<line x1="1297" y1="1347" x2="1562" y2="1347" stroke="#111" stroke-width="2.5" marker-end="url(#ab)"/>
<line x1="1432" y1="1440" x2="1432" y2="1242" stroke="#111" stroke-width="2.5" marker-end="url(#ab)"/>
<line x1="1385" y1="1272" x2="1480" y2="1425" stroke="#49a4d8" stroke-width="3"/>
<line x1="1325" y1="1400" x2="1525" y2="1270" stroke="#49a4d8" stroke-width="2" stroke-dasharray="4,3"/>
<line x1="1432" y1="1347" x2="1398" y2="1333" stroke="#111" stroke-width="3.5"/>
<line x1="1395" y1="1332" x2="1352" y2="1374" stroke="#cf3f3f" stroke-width="3" marker-end="url(#ar)"/>
<line x1="1432" y1="1347" x2="1496" y2="1292" stroke="#111" stroke-width="3.5" stroke-dasharray="6,4" marker-end="url(#ab)"/>
<line x1="1500" y1="1290" x2="1540" y2="1330" stroke="#cf3f3f" stroke-width="3" stroke-dasharray="7,5" marker-end="url(#ar)"/>
<text x="1440" y="1262" font-size="21" font-style="italic" fill="#111">k<tspan font-size="13" dy="6">y</tspan></text>
<text x="1530" y="1377" font-size="21" font-style="italic" fill="#111">k<tspan font-size="13" dy="6">x</tspan></text>
</g>
</svg>
</body></html>
